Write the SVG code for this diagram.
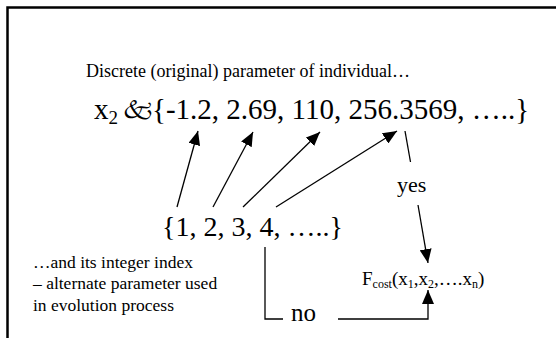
<svg xmlns="http://www.w3.org/2000/svg" width="556" height="338" viewBox="0 0 556 338">
<defs>
<style>
.t{font-family:"Liberation Serif","Times New Roman",serif;fill:#000}
.ln{stroke:#000;stroke-width:1.3;fill:none}
</style>
<marker id="ah" viewBox="0 0 14 12" refX="14" refY="6" markerWidth="14" markerHeight="12" markerUnits="userSpaceOnUse" orient="auto"><path d="M0,0 L14,6 L0,12 z" fill="#000"/></marker>
</defs>
<rect width="556" height="338" fill="#fff"/>
<path d="M556 7.5 H7.5 V338" fill="none" stroke="#000" stroke-width="2.5"/>
<g id="orig-label"><text class="t" x="86" y="77" font-size="18">Discrete (original) parameter of individual…</text></g>
<g id="discrete-set">
<text class="t" x="94" y="119" font-size="29">x<tspan font-size="19" dy="5">2</tspan></text>
<text x="122" y="118" font-size="25" font-family="'Noto Sans Symbols 2','DejaVu Sans',sans-serif" fill="#000">🙵</text>
<text class="t" x="152" y="119" font-size="29">{-1.2, 2.69, 110, 256.3569, …..}</text>
</g>
<g id="index-set"><text class="t" x="162" y="236" font-size="28">{1, 2, 3, 4, …..}</text></g>
<g id="index-label" font-size="17.5">
<text class="t" x="33" y="268">…and its integer index</text>
<text class="t" x="33" y="289">– alternate parameter used</text>
<text class="t" x="33" y="311">in evolution process</text>
</g>
<g id="fcost"><text class="t" x="362" y="285" font-size="19">F<tspan font-size="12" dy="3">cost</tspan><tspan dy="-3">(x</tspan><tspan font-size="12" dy="3">1</tspan><tspan dy="-3">,x</tspan><tspan font-size="12" dy="3">2</tspan><tspan dy="-3">,….x</tspan><tspan font-size="12" dy="3">n</tspan><tspan dy="-3">)</tspan></text></g>
<g id="connectors">
<line class="ln" x1="177" y1="207" x2="198" y2="131" marker-end="url(#ah)"/>
<line class="ln" x1="213" y1="207" x2="253" y2="132" marker-end="url(#ah)"/>
<line class="ln" x1="243" y1="207" x2="320" y2="132" marker-end="url(#ah)"/>
<line class="ln" x1="276" y1="207" x2="397" y2="131" marker-end="url(#ah)"/>
<line class="ln" x1="405" y1="131" x2="410.5" y2="162"/>
<line class="ln" x1="418" y1="205" x2="428" y2="263" marker-end="url(#ah)"/>
<text class="t" x="397" y="192" font-size="22">yes</text>
<path class="ln" d="M265 247 V319 H283"/>
<text class="t" x="291" y="321" font-size="25">no</text>
<path class="ln" d="M338 319 H428 V290" marker-end="url(#ah)"/>
</g>
</svg>
